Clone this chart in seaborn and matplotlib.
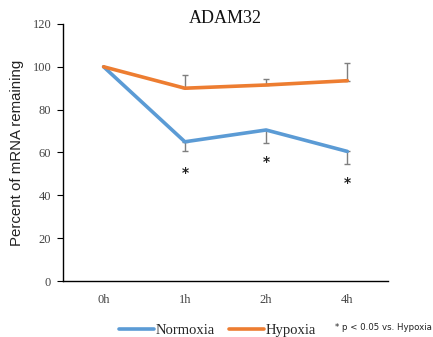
import matplotlib
matplotlib.use("Agg")
import matplotlib.pyplot as plt
import seaborn as sns
import pandas as pd
import numpy as np
from matplotlib.lines import Line2D

timepoints = ["0h", "1h", "2h", "4h"]
normoxia = [100, 65, 70.5, 60.5]
hypoxia = [100, 90, 91.5, 93.5]
normoxia_err_low = [0, 4.3, 6.2, 5.7]
hypoxia_err_up = [0, 6.2, 2.9, 8.3]
star_y = [None, 50.5, 55.7, 45.6]

sns.set_theme(style="white")
plt.rcParams['font.family'] = ['Liberation Serif', 'DejaVu Serif']

blue = "#5B9BD5"
orange = "#ED7D31"

df = pd.DataFrame({
    "time": timepoints * 2,
    "value": normoxia + hypoxia,
    "group": ["Normoxia"] * 4 + ["Hypoxia"] * 4,
})

fig = plt.figure(figsize=(4.33, 3.37), dpi=100)
ax = fig.add_axes([0.1455, 0.166, 0.7505, 0.763])

sns.lineplot(data=df, x="time", y="value", hue="group", sort=False,
             palette={"Normoxia": blue, "Hypoxia": orange}, linewidth=2.6,
             ax=ax, legend=False)

xs = np.arange(len(timepoints))
ax.errorbar(xs[1:], normoxia[1:], yerr=[normoxia_err_low[1:], [0] * 3],
            fmt="none", ecolor="#7f7f7f", elinewidth=1.0, capsize=2.5, capthick=1.0, zorder=1)
ax.errorbar(xs[1:], hypoxia[1:], yerr=[[0] * 3, hypoxia_err_up[1:]],
            fmt="none", ecolor="#7f7f7f", elinewidth=1.0, capsize=2.5, capthick=1.0, zorder=1)

for x, y in zip(xs, star_y):
    if y is not None:
        ax.text(x, y, "*", ha="center", va="center", fontsize=10, fontweight="bold",
                family="DejaVu Sans", color="#222222")

ax.set_xlim(-0.5, 3.5)
ax.set_ylim(0, 120)
ax.set_yticks(range(0, 121, 20))
ax.set_xlabel("")
ax.set_ylabel("Percent of mRNA remaining", family="Liberation Sans", fontsize=10.8,
              labelpad=6, color="#222222")
ax.set_title("ADAM32", fontsize=13, pad=1, color="#111111")

for s in ["top", "right"]:
    ax.spines[s].set_visible(False)
for s in ["left", "bottom"]:
    ax.spines[s].set_color("black")
    ax.spines[s].set_linewidth(1.0)

ax.tick_params(axis="y", direction="out", length=4, width=0.8, color="black",
               labelsize=9, labelcolor="#444444", pad=4.5, left=True)
ax.tick_params(axis="x", length=0, labelsize=9, labelcolor="#444444", pad=9)

handles = [Line2D([0], [0], color=blue, lw=2.6), Line2D([0], [0], color=orange, lw=2.6)]
fig.legend(handles, ["Normoxia", "Hypoxia"], loc="center", bbox_to_anchor=(0.502, 0.02),
           ncol=2, frameon=False, fontsize=10.5, handlelength=2.4, handletextpad=0.1,
           columnspacing=1.0)
fig.text(0.773, 0.028, "* p < 0.05 vs. Hypoxia", family="DejaVu Sans", fontsize=6.2,
         va="center", ha="left", color="#222222")

fig.savefig("out.png", dpi=100)
